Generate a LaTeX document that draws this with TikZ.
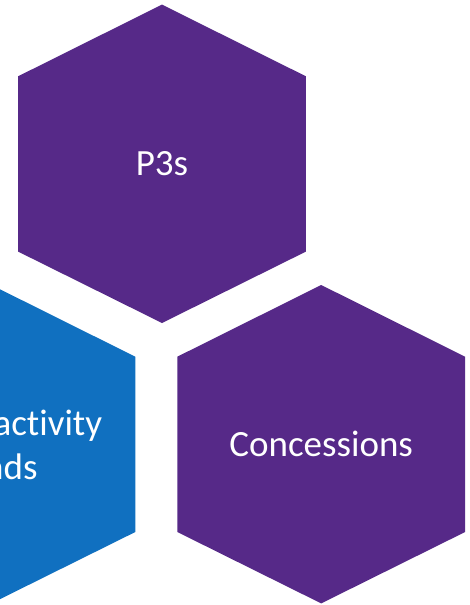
\documentclass[tikz,border=0pt]{standalone}
\usepackage{fontspec}
\setmainfont{Carlito}[Ligatures=NoCommon]
\usetikzlibrary{calc}
\definecolor{hexpurple}{RGB}{86,41,136}
\definecolor{hexblue}{RGB}{16,112,192}
\tikzset{
  hexlabel/.style={text=white, align=center, font=\fontsize{37}{44}\selectfont, inner sep=0pt},
}
\newcommand{\hexfill}[2]{%
  \fill[#1] ($(#2)+(0,-159.2)$) -- ($(#2)+(143.9,-87.5)$) -- ($(#2)+(143.9,87.8)$) --
    ($(#2)+(0,159.2)$) -- ($(#2)+(-143.9,87.8)$) -- ($(#2)+(-143.9,-87.5)$) -- cycle;}
\begin{document}
\begin{tikzpicture}[x=1pt,y=-1pt]
\useasboundingbox (0,0) rectangle (469,605);
\clip (0,0) rectangle (469,605);
\fill[white] (0,0) rectangle (469,605);
\coordinate (ctop) at (162,163.8);
\coordinate (cright) at (321.2,444.2);
\coordinate (cleft) at (-8.6,444.2);
\hexfill{hexpurple}{ctop}
\hexfill{hexpurple}{cright}
\hexfill{hexblue}{cleft}
\node[hexlabel] (p3s) at (ctop) {P3s};
\node[hexlabel] (conc) at (cright) {Concessions};
\node[hexlabel] (pab) at ($(cleft)+(0,1)$) {Private activity\\bonds};
\end{tikzpicture}
\end{document}
